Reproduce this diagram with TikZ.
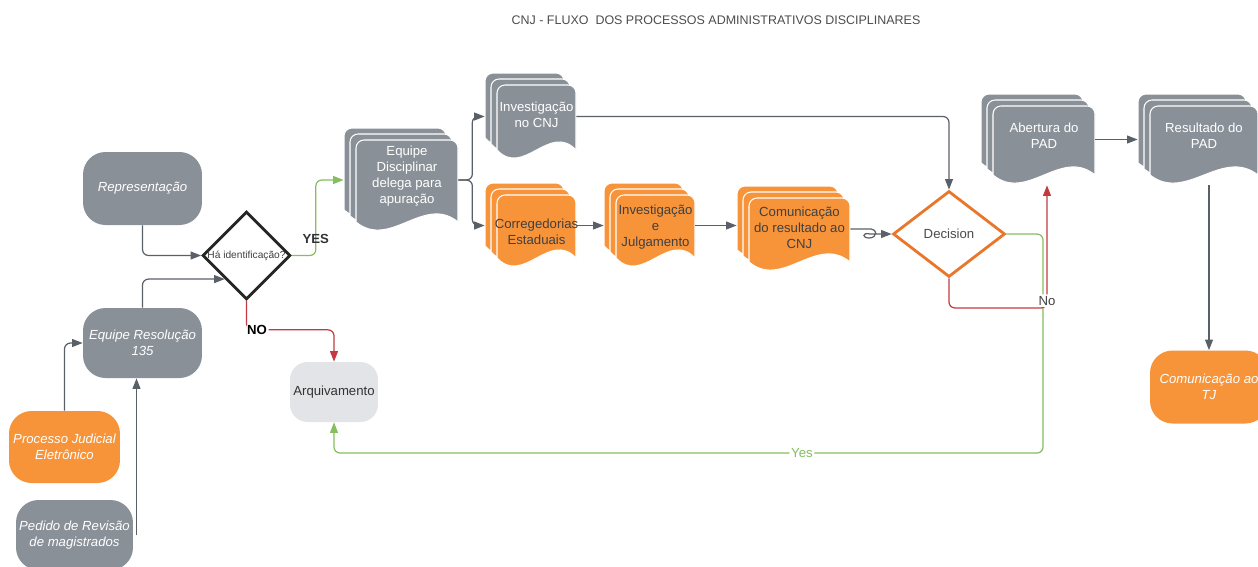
\documentclass[tikz,border=0pt]{standalone}
\usepackage{fontspec}
\setmainfont{Liberation Sans}
\usetikzlibrary{arrows.meta, positioning, calc, shapes.geometric}
\definecolor{padgray}{HTML}{8A9098}
\definecolor{padorange}{HTML}{F7943A}
\definecolor{arqgray}{HTML}{E2E4E7}
\definecolor{linegray}{HTML}{5A6068}
\definecolor{yesgreen}{HTML}{84BE5E}
\definecolor{nored}{HTML}{C23A40}
\definecolor{decorange}{HTML}{E8772C}

% stack of three documents: name, x, y, width, height, style, text, text y
\newcommand{\docstack}[8]{%
  \foreach \lay in {12,6,0}{%
    \path[#6, draw=white, line width=0.6pt]
      ({#2-\lay},{#3-\lay+#5}) [rounded corners=0.16cm]
      -- ({#2-\lay},{#3-\lay}) -- ({#2-\lay+#4},{#3-\lay}) [sharp corners]
      -- ({#2-\lay+#4},{#3-\lay+#5})
      .. controls ({#2-\lay+#4*2/3},{#3-\lay+#5-28}) and ({#2-\lay+#4/3},{#3-\lay+#5+28}) .. cycle;
  }
  \node[stackbox, minimum width={(#4+12)*0.02cm}, minimum height={(#5+22)*0.02cm}] (#1) at ({#2+#4/2-6},{#3+#5/2-1}) {};
  \node[stacktext, #6, fill=none] (#1-t) at ({#2+#4/2},#8) {#7};
}

\begin{document}
\begin{tikzpicture}[x=0.02cm, y=-0.02cm,
    >={Triangle[length=6pt,width=4.5pt]},
    term/.style={fill=padgray, text=white, rounded corners=0.45cm, minimum width=2.38cm, minimum height=1.46cm, align=center, inner sep=1pt, font=\fontsize{7.5}{9.1}\selectfont\itshape},
    grayst/.style={fill=padgray, text=white},
    orangest/.style={fill=padorange, text=black!75},
    stackbox/.style={draw=none, inner sep=0pt, shape=rectangle},
    stacktext/.style={align=center, inner sep=0pt, font=\fontsize{7.5}{9.1}\selectfont},
    conn/.style={->, draw=linegray, line width=0.7pt, rounded corners=0.12cm},
    yesline/.style={conn, draw=yesgreen},
    noline/.style={conn, draw=nored},
    lbl/.style={fill=white, inner sep=1pt, font=\fontsize{7.5}{9}\selectfont},
    lblb/.style={lbl, font=\fontsize{7.5}{9}\selectfont\bfseries}
]
\useasboundingbox (0,0) rectangle (1258,566);
\clip (0,0) rectangle (1258,566);
% Title
\node[font=\fontsize{7.1}{8}\selectfont, text=black!70] (title) at (716,20) {CNJ - FLUXO\ \ DOS PROCESSOS ADMINISTRATIVOS DISCIPLINARES};
% Entradas
\node[term] (rep) at (142.5,188.5) {Representação};
\node[term, minimum height=1.4cm] (res) at (142.5,343) {Equipe Resolução\\135};
\node[term, fill=padorange, minimum width=2.22cm, minimum height=1.44cm] (pje) at (64.5,447) {Processo Judicial\\Eletrônico};
\node[term, minimum width=2.34cm, minimum height=1.4cm] (ped) at (74.5,535) {Pedido de Revisão\\de magistrados};
\node[term, fill=arqgray, text=black!80, minimum width=1.76cm, minimum height=1.2cm, rounded corners=0.35cm, font=\fontsize{7.5}{9.1}\selectfont] (arq) at (334,392) {Arquivamento};
\node[term, fill=padorange, minimum width=2.36cm] (ctj) at (1209,387) {Comunicação ao\\TJ};
% Decisoes
\node[diamond, draw=black!85, line width=1.6pt, fill=white, inner sep=0pt, minimum width=1.74cm, minimum height=1.74cm, text=black!75, font=\fontsize{5.8}{7}\selectfont] (ident) at (246.5,255.5) {Há identificação?};
\node[diamond, draw=decorange, line width=1.6pt, fill=white, inner sep=0pt, aspect=1.3, minimum width=2.24cm, minimum height=1.72cm, text=black!70, font=\fontsize{7.5}{9}\selectfont] (dec) at (949,234) {Decision};
% Documentos
\docstack{equ}{356}{140}{102}{82}{grayst}{Equipe\\Disciplinar\\delega para\\apuração}{176}
\docstack{inv}{497}{85}{79}{65}{grayst}{Investigação\\no CNJ}{115}
\docstack{cor}{497}{195}{79}{63}{orangest}{Corregedorias\\Estaduais}{232}
\docstack{ij}{616}{195}{79}{63}{orangest}{Investigação\\e\\Julgamento}{227}
\docstack{com}{749}{198}{101}{64}{orangest}{Comunicação\\do resultado ao\\CNJ}{228}
\docstack{aber}{993}{106}{102}{69}{grayst}{Abertura do\\PAD}{136}
\docstack{resp}{1150}{106}{108}{69}{grayst}{Resultado do\\PAD}{136}
% Conectores
\coordinate (pedin) at ($(res.south)+(-6,0)$);
\coordinate (ycorner) at (1043,453);
\coordinate (nopt) at (1047,308);
\draw[conn] (rep.south) |- (ident.west);
\draw[conn] (res.north) |- ($(ident.west)!0.52!(ident.south)$);
\draw[conn] (pje.north) |- (res.west);
\draw[conn] (pedin |- ped.east) -- (pedin);
\draw[yesline] (ident.east) -- ++(24,0) node[lblb, fill=none, text=black!80, above=0.2cm] {YES} |- (equ.west);
\draw[noline] (ident.south) -- ++(0,29) -| node[pos=0.06, lblb] {NO} (arq.north);
\draw[conn] (equ.east) -- ++(14,0) |- (inv.west);
\draw[conn] (equ.east) -- ++(14,0) |- (cor.west);
\draw[conn] (cor.east) -- (cor.east -| ij.west);
\draw[conn] (ij.east) -- (ij.east -| com.west);
\draw[conn] (inv.east) -| (dec.north);
\draw[conn, sharp corners] (com.east) -- (868,229) .. controls (878,228) and (878,238) .. (869,238) .. controls (862,238) and (862,232) .. (870,234) -- (dec.west);
\draw[yesline] (dec.east) -| (ycorner) -| node[pos=0.17, lbl, text=yesgreen] {Yes} (arq.south);
\draw[noline] (dec.south) |- (nopt) -- node[pos=0.06, lbl, text=black!75] {No} (nopt |- aber.south);
\draw[conn] (aber.east) -- (aber.east -| resp.west);
\draw[conn] (ctj.north |- resp.south) -- (ctj.north);
\end{tikzpicture}
\end{document}
